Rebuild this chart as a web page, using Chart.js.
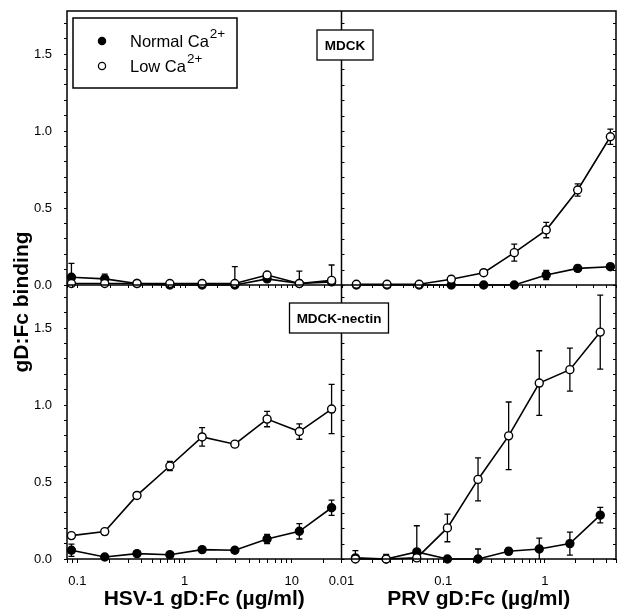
<!DOCTYPE html>
<html>
<head>
<meta charset="utf-8">
<script src="https://cdn.jsdelivr.net/npm/chart.js@4.4.1/dist/chart.umd.min.js"></script>
<style>
  html, body { margin: 0; padding: 0; background: #fff; }
  #wrap { width: 618px; height: 612px; position: relative; }
</style>
</head>
<body>
<div id="wrap"><canvas id="chart" width="618" height="612"></canvas></div>
<script>
// Concentraciones (ug/ml) de cada dilución
const hsvDose = [0.088, 0.18, 0.36, 0.73, 1.46, 2.95, 5.9, 11.8, 23.6];
const prvDoseMdck = [0.014, 0.028, 0.058, 0.12, 0.25, 0.5, 1.03, 2.1, 4.4];
const prvDoseNectin = [0.0137, 0.0275, 0.055, 0.11, 0.22, 0.44, 0.88, 1.76, 3.5];

// Etiquetas de los ejes
const hsvTickLabels = [0.1, 1, 10];
const prvTickLabels = [0.01, 0.1, 1];
const yTickLabels = [0, 0.5, 1, 1.5];

// MDCK + HSV-1
const mdckHsvNormal = [0.05, 0.04, 0.01, 0.0, 0.0, 0.0, 0.04, 0.01, 0.02];
const mdckHsvNormalErr = [0.09, 0.03, 0, 0, 0, 0.12, 0.01, 0.08, 0.11];
const mdckHsvLow = [0.01, 0.01, 0.01, 0.01, 0.01, 0.01, 0.065, 0.01, 0.03];
const mdckHsvLowErr = [0.01, 0.01, 0, 0, 0, 0.01, 0.015, 0.01, 0.01];

// MDCK + PRV
const mdckPrvNormal = [0.0, 0.0, 0.0, 0.0, 0.0, 0.0, 0.065, 0.108, 0.119];
const mdckPrvNormalErr = [0, 0, 0, 0, 0, 0, 0.03, 0.02, 0.01];
const mdckPrvLow = [0.005, 0.005, 0.005, 0.037, 0.08, 0.21, 0.357, 0.617, 0.963];
const mdckPrvLowErr = [0, 0, 0, 0.02, 0.01, 0.055, 0.05, 0.04, 0.05];

// MDCK-nectin + HSV-1
const nectinHsvNormal = [0.057, 0.013, 0.035, 0.028, 0.061, 0.057, 0.13, 0.18, 0.333];
const nectinHsvNormalErr = [0.04, 0.01, 0.01, 0.01, 0.015, 0.015, 0.03, 0.05, 0.05];
const nectinHsvLow = [0.152, 0.178, 0.413, 0.604, 0.793, 0.746, 0.909, 0.828, 0.974];
const nectinHsvLowErr = [0.01, 0.01, 0.01, 0.03, 0.06, 0.01, 0.05, 0.05, 0.16];

// MDCK-nectin + PRV
const nectinPrvNormal = [0.007, 0.0, 0.046, 0.0, 0.0, 0.05, 0.065, 0.1, 0.285];
const nectinPrvNormalErr = [0, 0, 0.17, 0, 0.065, 0.02, 0.07, 0.075, 0.05];
const nectinPrvLow = [0.0, 0.0, 0.007, 0.202, 0.517, 0.8, 1.143, 1.23, 1.474];
const nectinPrvLowErr = [0.055, 0.03, 0.01, 0.09, 0.14, 0.22, 0.21, 0.14, 0.24];

const FONT = '"Liberation Sans", Arial, Helvetica, sans-serif';

function pts(xs, ys) { return xs.map((x, i) => ({ x, y: ys[i] })); }

function series(label, xs, ys, errs, filled, xAxisID, yAxisID) {
    return {
        label, data: pts(xs, ys), errors: errs, xAxisID, yAxisID,
        showLine: true, borderColor: '#000', borderWidth: 1.6,
        pointRadius: 4, pointHoverRadius: 4, pointBorderWidth: 1.4,
        pointBackgroundColor: filled ? '#000' : '#fff', pointBorderColor: '#000',
        clip: 8, order: filled ? 1 : 0
    };
}

// Ticks menores del eje log: 1..9 x 10^n dentro del rango
function logTicks(scale) {
    const out = [];
    for (let e = -3; e <= 2; e++) {
        for (let m = 1; m <= 9; m++) {
            const v = m * Math.pow(10, e);
            if (v >= scale.min && v <= scale.max) out.push({ value: v });
        }
    }
    scale.ticks = out;
}

// Las etiquetas del eje X se dibujan en el plugin
function xAxis(min, max, labels, title, weight) {
    return {
        type: 'logarithmic', position: 'bottom', stack: 'x', stackWeight: 1, weight,
        min, max, tickLabels: labels,
        afterBuildTicks: logTicks,
        afterFit: (s) => { s.height = 53; s.paddingLeft = 0; s.paddingRight = 0; },
        grid: { drawOnChartArea: false, drawTicks: true, tickLength: 4, color: '#000', lineWidth: 1 },
        border: { display: false },
        ticks: { display: false, autoSkip: false },
        title: { display: true, text: title, color: '#000', padding: 0, font: { family: FONT, size: 21, weight: 'bold' } }
    };
}

function yAxis(weight) {
    return {
        type: 'linear', position: 'left', stack: 'y', stackWeight: 1, weight,
        min: 0, max: 1.78,
        afterFit: (s) => { s.width = 67; s.paddingTop = 0; s.paddingBottom = 0; },
        grid: { drawOnChartArea: false, drawTicks: true, tickLength: 3, color: '#000', lineWidth: 1 },
        border: { display: false },
        ticks: {
            stepSize: 0.1, includeBounds: false, autoSkip: false, padding: 12, color: '#000',
            font: { family: FONT, size: 13 },
            callback: (v) => {
                const hit = yTickLabels.find((l) => Math.abs(l - v) < 1e-6);
                return hit !== undefined ? hit.toFixed(1) : '';
            }
        }
    };
}

// Barras de error (verticales, simétricas), recortadas al panel
const errorBars = {
    id: 'errorBars',
    beforeDatasetsDraw(chart) {
        const ctx = chart.ctx;
        ctx.save();
        ctx.strokeStyle = '#000';
        ctx.lineWidth = 1.3;
        chart.data.datasets.forEach((ds) => {
            const xs = chart.scales[ds.xAxisID], ys = chart.scales[ds.yAxisID];
            ds.data.forEach((p, i) => {
                const e = ds.errors[i];
                if (!e) return;
                const px = xs.getPixelForValue(p.x);
                const top = ys.getPixelForValue(p.y + e), bot = ys.getPixelForValue(p.y - e);
                const t = Math.max(top, ys.top), b = Math.min(bot, ys.bottom);
                ctx.beginPath();
                ctx.moveTo(px, t); ctx.lineTo(px, b);
                if (top >= ys.top) { ctx.moveTo(px - 3, top); ctx.lineTo(px + 3, top); }
                if (bot <= ys.bottom) { ctx.moveTo(px - 3, bot); ctx.lineTo(px + 3, bot); }
                ctx.stroke();
            });
        });
        ctx.restore();
    }
};

function boxLabel(ctx, text, cx, cy, w, h) {
    ctx.fillStyle = '#fff';
    ctx.fillRect(cx - w / 2, cy - h / 2, w, h);
    ctx.strokeRect(cx - w / 2, cy - h / 2, w, h);
    ctx.fillStyle = '#000';
    ctx.font = 'bold 13.5px ' + FONT;
    ctx.textAlign = 'center'; ctx.textBaseline = 'middle';
    ctx.fillText(text, cx, cy + 1);
}

// Marco de los paneles, ticks interiores, etiquetas X, leyenda y título Y
const frame = {
    id: 'frame',
    afterDraw(chart) {
        const { ctx, chartArea: a } = chart;
        const { xL, xR, yT, yB } = chart.scales;
        ctx.save();
        ctx.strokeStyle = '#000';
        ctx.lineWidth = 1.5;
        ctx.strokeRect(a.left, a.top, a.right - a.left, a.bottom - a.top);
        ctx.beginPath();
        ctx.moveTo(a.left, yT.bottom); ctx.lineTo(a.right, yT.bottom);
        ctx.moveTo(xL.right, a.top); ctx.lineTo(xL.right, a.bottom);
        ctx.stroke();

        // ticks del eje X del panel superior (hacia abajo)
        ctx.lineWidth = 1;
        ctx.beginPath();
        [xL, xR].forEach((s) => s.ticks.forEach((t) => {
            const px = Math.round(s.getPixelForValue(t.value)) + 0.5;
            ctx.moveTo(px, yT.bottom); ctx.lineTo(px, yT.bottom + 3);
        }));
        // ticks en el divisor central y en el borde derecho
        [yT, yB].forEach((s) => s.ticks.forEach((t) => {
            const py = Math.round(s.getPixelForValue(t.value)) + 0.5;
            ctx.moveTo(xL.right, py); ctx.lineTo(xL.right + 3, py);
            ctx.moveTo(a.right, py); ctx.lineTo(a.right - 3, py);
        }));
        ctx.stroke();

        // etiquetas del eje X
        ctx.fillStyle = '#000';
        ctx.font = '13px ' + FONT;
        ctx.textAlign = 'center'; ctx.textBaseline = 'middle';
        [xL, xR].forEach((s) => s.options.tickLabels.forEach((v) => {
            ctx.fillText(String(v), s.getPixelForValue(v), a.bottom + 22);
        }));

        // leyenda
        ctx.lineWidth = 1.5;
        ctx.strokeRect(73, 18, 164, 70);
        const rows = [{ t: 'Normal Ca', fill: '#000', y: 41 }, { t: 'Low Ca', fill: '#fff', y: 66 }];
        rows.forEach((r) => {
            ctx.beginPath();
            ctx.arc(102, r.y, 3.6, 0, Math.PI * 2);
            ctx.fillStyle = r.fill; ctx.fill();
            ctx.lineWidth = 1.3; ctx.stroke();
            ctx.fillStyle = '#000';
            ctx.textAlign = 'left'; ctx.textBaseline = 'alphabetic';
            ctx.font = '16.5px ' + FONT;
            ctx.fillText(r.t, 130, r.y + 6);
            const w = ctx.measureText(r.t).width;
            ctx.font = '13.5px ' + FONT;
            ctx.fillText('2+', 130 + w + 1, r.y - 3);
        });

        // etiquetas de panel
        ctx.lineWidth = 1.3;
        boxLabel(ctx, 'MDCK', 345, 45, 56, 30);
        boxLabel(ctx, 'MDCK-nectin', 339, 318, 99, 30);

        // título del eje Y, centrado en ambos paneles
        ctx.save();
        ctx.translate(22, 302);
        ctx.rotate(-Math.PI / 2);
        ctx.font = 'bold 21px ' + FONT;
        ctx.textAlign = 'center'; ctx.textBaseline = 'middle';
        ctx.fillText('gD:Fc binding', 0, 0);
        ctx.restore();
        ctx.restore();
    }
};

new Chart(document.getElementById('chart'), {
    type: 'scatter',
    data: {
        datasets: [
            series('Normal Ca2+', hsvDose, mdckHsvNormal, mdckHsvNormalErr, true, 'xL', 'yT'),
            series('Low Ca2+', hsvDose, mdckHsvLow, mdckHsvLowErr, false, 'xL', 'yT'),
            series('Normal Ca2+', prvDoseMdck, mdckPrvNormal, mdckPrvNormalErr, true, 'xR', 'yT'),
            series('Low Ca2+', prvDoseMdck, mdckPrvLow, mdckPrvLowErr, false, 'xR', 'yT'),
            series('Normal Ca2+', hsvDose, nectinHsvNormal, nectinHsvNormalErr, true, 'xL', 'yB'),
            series('Low Ca2+', hsvDose, nectinHsvLow, nectinHsvLowErr, false, 'xL', 'yB'),
            series('Normal Ca2+', prvDoseNectin, nectinPrvNormal, nectinPrvNormalErr, true, 'xR', 'yB'),
            series('Low Ca2+', prvDoseNectin, nectinPrvLow, nectinPrvLowErr, false, 'xR', 'yB')
        ]
    },
    options: {
        responsive: false, animation: false, devicePixelRatio: 1,
        // sin autoPadding: el radio de los puntos no debe encoger el área
        layout: { autoPadding: false, padding: { top: 11, right: 2, bottom: 0, left: 0 } },
        plugins: { legend: { display: false }, tooltip: { enabled: false } },
        scales: {
            yT: yAxis(2),
            yB: yAxis(1),
            xL: xAxis(0.08, 29.2, hsvTickLabels, 'HSV-1 gD:Fc (\u00b5g/ml)', 1),
            xR: xAxis(0.01, 5, prvTickLabels, 'PRV gD:Fc (\u00b5g/ml)', 2)
        }
    },
    plugins: [errorBars, frame]
});
</script>
</body>
</html>
